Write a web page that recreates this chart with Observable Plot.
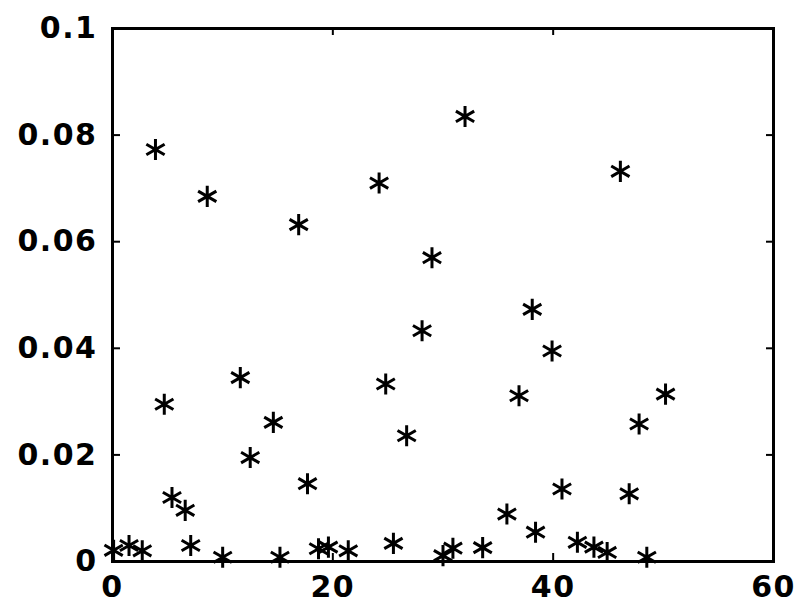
<!DOCTYPE html>
<html>
<head>
<meta charset="utf-8">
<script src="https://cdn.jsdelivr.net/npm/d3@7"></script>
<script src="https://cdn.jsdelivr.net/npm/@observablehq/plot@0.6"></script>
<style>
  html, body { margin: 0; padding: 0; background: #fff; }
  #chart svg text { letter-spacing: 1.5px; font-weight: bold; }
</style>
</head>
<body>
<div id="chart"></div>
<script>
// Sample index (x) and value (y)
const xs = [3.9, 4.7, 5.4, 6.6, 8.6, 11.6, 12.5, 14.6, 16.9, 17.7, 24.2, 24.8, 26.7, 28.1, 29.0,
            32.0, 35.8, 36.9, 38.1, 38.4, 39.9, 40.8, 46.1, 46.9, 47.8, 50.2,
            0.1, 1.5, 2.7, 7.1, 10.0, 15.2, 18.7, 19.6, 21.4, 25.5, 30.0, 30.9, 33.6,
            42.2, 43.7, 44.9, 48.5];
const ys = [0.0773, 0.0295, 0.0120, 0.0096, 0.0685, 0.0345, 0.0195, 0.0261, 0.0632, 0.0146, 0.0710, 0.0333, 0.0236, 0.0433, 0.0570,
            0.0835, 0.0089, 0.0311, 0.0473, 0.0055, 0.0395, 0.0136, 0.0732, 0.0127, 0.0258, 0.0314,
            0.0021, 0.0030, 0.0020, 0.0030, 0.0008, 0.0008, 0.0024, 0.0027, 0.0020, 0.0034, 0.0011, 0.0025, 0.0026,
            0.0036, 0.0027, 0.0017, 0.0008];

const xTicks = [0, 20, 40, 60];
const xTickLabels = ["0", "20", "40", "60"];
const yTicks = [0, 0.02, 0.04, 0.06, 0.08, 0.1];
const yTickLabels = ["0", "0.02", "0.04", "0.06", "0.08", "0.1"];

const data = xs.map((x, i) => ({x, y: ys[i]}));

const chart = Plot.plot({
  width: 796,
  height: 604,
  marginLeft: 112,
  marginRight: 23,
  marginTop: 28,
  marginBottom: 43,
  style: {fontFamily: "'DejaVu Sans', sans-serif", fontSize: "30px", color: "black", background: "white"},
  x: {domain: [0, 60]},
  y: {domain: [0, 0.1]},
  marks: [
    Plot.axisX({ticks: xTicks, tickSize: -8, tickPadding: 22, strokeWidth: 2,
                tickFormat: (d, i) => xTickLabels[i], label: null}),
    Plot.axisX({anchor: "top", ticks: xTicks, tickSize: -6, strokeWidth: 2,
                tickFormat: () => "", label: null}),
    Plot.axisY({ticks: yTicks, tickSize: -8, tickPadding: 23, strokeWidth: 2,
                tickFormat: (d, i) => yTickLabels[i], label: null}),
    Plot.axisY({anchor: "right", ticks: yTicks, tickSize: -8, strokeWidth: 2,
                tickFormat: () => "", label: null}),
    Plot.frame({stroke: "black", strokeWidth: 3}),
    Plot.dot(data, {x: "x", y: "y", symbol: "asterisk", r: 10, stroke: "black", strokeWidth: 3})
  ]
});
document.getElementById("chart").appendChild(chart);
</script>
</body>
</html>
